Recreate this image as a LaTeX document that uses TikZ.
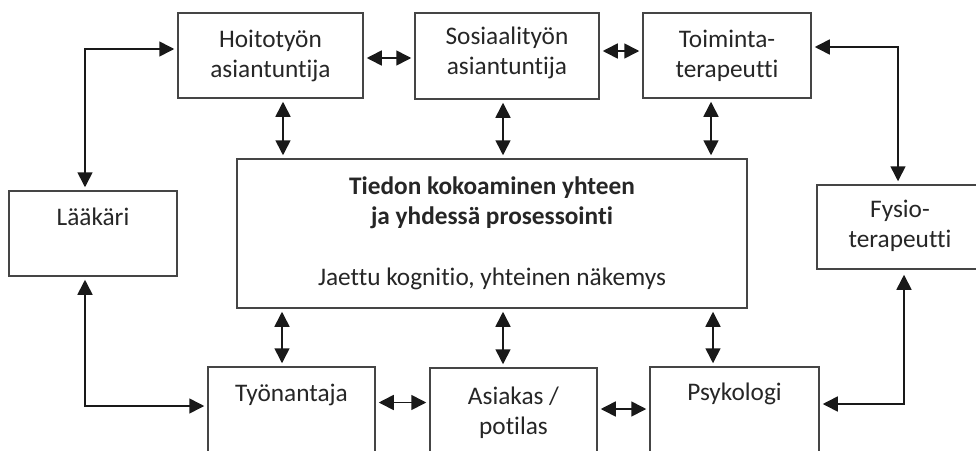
\documentclass[tikz,border=0pt]{standalone}
\usepackage{fontspec}
\setmainfont{Carlito}[Ligatures=NoCommon]
\usetikzlibrary{arrows.meta}
\definecolor{edgecol}{gray}{0.27}
\definecolor{txtcol}{gray}{0.15}
\definecolor{arrcol}{gray}{0.1}
\begin{document}
\begin{tikzpicture}[x=1pt,y=-1pt,
  box/.style={draw=edgecol, line width=1.5pt, inner sep=0pt, fill=white},
  lbl/.style={anchor=base, inner sep=0pt, align=center, text=txtcol,
    font=\fontsize{25.3}{30.5}\selectfont},
  arr/.style={{Triangle[length=15pt,width=15pt]}-{Triangle[length=15pt,width=15pt]},
    line width=1.6pt, draw=arrcol, shorten <=3pt, shorten >=3pt}]
\useasboundingbox (0,0) rectangle (976,450);
\clip (0,0) rectangle (976,450);
\fill[white] (0,0) rectangle (976,450);

% boxes
\node[box, minimum width=185pt, minimum height=85pt] (hoito) at (270.5,55.5) {};
\node[box, minimum width=184pt, minimum height=86pt] (sos) at (507,56) {};
\node[box, minimum width=168pt, minimum height=85pt] (toim) at (727,55.5) {};
\node[box, minimum width=168pt, minimum height=85pt] (laak) at (93,233.5) {};
\node[box, minimum width=510pt, minimum height=149pt] (center) at (492,233.5) {};
\node[box, minimum width=166pt, minimum height=84pt] (fysio) at (900,227) {};
\node[box, minimum width=167pt, minimum height=86pt] (tyon) at (291.5,410) {};
\node[box, minimum width=167pt, minimum height=86pt] (asiakas) at (513.5,411) {};
\node[box, minimum width=169pt, minimum height=86pt] (psyk) at (734.5,410) {};

% labels (base anchor = baseline of the last line)
\node[lbl] (thoito) at (270.5,77.5) {Hoitotyön\\asiantuntija};
\node[lbl] (tsos) at (507,74.5) {Sosiaalityön\\asiantuntija};
\node[lbl] (ttoim) at (727,77.5) {Toiminta-\\terapeutti};
\node[lbl] (tlaak) at (93,225) {Lääkäri};
\node[lbl] (tcenter) at (492,285.5) {\textbf{Tiedon kokoaminen yhteen}\\\textbf{ja yhdessä prosessointi}\\[30.5pt]Jaettu kognitio, yhteinen näkemys};
\node[lbl] (tfysio) at (900,247.5) {Fysio-\\terapeutti};
\node[lbl] (ttyon) at (291.5,401) {Työnantaja};
\node[lbl] (tasiakas) at (513.5,434.5) {Asiakas /\\potilas};
\node[lbl] (tpsyk) at (734.5,400) {Psykologi};

% vertical connectors to the central box
\draw[arr] ([xshift=12.5pt]hoito.south) -- ([xshift=12.5pt]hoito.south |- center.north);
\draw[arr] ([xshift=-4pt]sos.south) -- ([xshift=-4pt]sos.south |- center.north);
\draw[arr] ([xshift=-16pt]toim.south) -- ([xshift=-16pt]toim.south |- center.north);
\draw[arr] ([xshift=-9.5pt]tyon.north |- center.south) -- ([xshift=-9.5pt]tyon.north);
\draw[arr] ([xshift=-10.5pt]asiakas.north |- center.south) -- ([xshift=-10.5pt]asiakas.north);
\draw[arr] ([xshift=-21.5pt]psyk.north |- center.south) -- ([xshift=-21.5pt]psyk.north);

% horizontal connectors
\draw[arr] ([yshift=-2.5pt]hoito.east) -- ([yshift=-2.5pt]hoito.east -| sos.west);
\draw[arr] ([yshift=5pt]sos.east) -- ([yshift=5pt]sos.east -| toim.west);
\draw[arr] ([yshift=7.5pt]tyon.east) -- ([yshift=7.5pt]tyon.east -| asiakas.west);
\draw[arr] ([yshift=2pt]asiakas.east) -- ([yshift=2pt]asiakas.east -| psyk.west);

% elbow connectors
\draw[arr] ([xshift=-8pt]laak.north) |- ([yshift=6.5pt]hoito.west);
\draw[arr] ([xshift=-8pt]laak.south) |- ([yshift=4pt]tyon.west);
\draw[arr] ([yshift=8.5pt]toim.east) -| ([xshift=-2pt]fysio.north);
\draw[arr, shorten >=5pt] ([yshift=6pt]psyk.east) -| ([xshift=4pt]fysio.south);
\end{tikzpicture}
\end{document}
